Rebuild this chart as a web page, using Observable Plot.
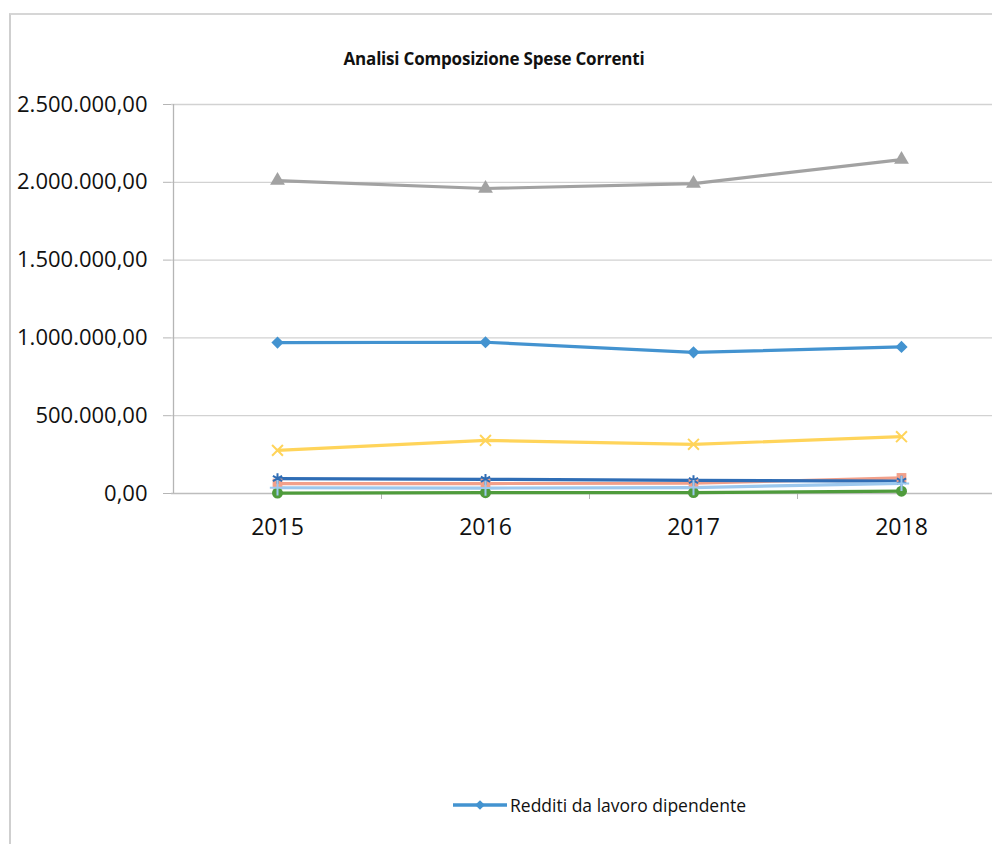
<!DOCTYPE html>
<html>
<head>
<meta charset="utf-8">
<script src="https://cdn.jsdelivr.net/npm/d3@7"></script>
<script src="https://cdn.jsdelivr.net/npm/@observablehq/plot@0.6"></script>
<style>
  body { margin: 0; background: #fff; font-family: "Open Sans", sans-serif; }
  #wrap { position: relative; width: 992px; height: 844px; overflow: hidden; background: #fff; }
  #frame { position: absolute; left: 9px; top: 13px; width: 1000px; height: 900px;
           border-left: 2px solid #cfcfcf; border-top: 2px solid #d6d6d6; }
  #title { position: absolute; left: 0; width: 988px; top: 47px; text-align: center;
           font-weight: 700; font-size: 17px; color: #111; letter-spacing: -0.2px; }
  #chart { position: absolute; left: 0; top: 84px; }
  #legend { position: absolute; left: 452px; top: 793px; display: flex; align-items: center;
            font-size: 17.5px; color: #111; }
</style>
</head>
<body>
<div id="wrap">
  <div id="frame"></div>
  <div id="title">Analisi Composizione Spese Correnti</div>
  <div id="chart"></div>
  <div id="legend"></div>
</div>
<script>
// ---- data ----
const years = [2015, 2016, 2017, 2018];
const seriesNames = [
  "Redditi da lavoro dipendente",
  "Imposte e tasse a carico dell'ente",
  "Acquisto di beni e servizi",
  "Trasferimenti correnti",
  "Interessi passivi",
  "Rimborsi e poste correttive delle entrate",
  "Altre spese correnti"
];
const redditi   = [970000, 972000, 907000, 942000];
const imposte   = [64000, 64000, 66000, 100000];
const beni      = [2011000, 1960000, 1992000, 2146000];
const trasferim = [277000, 341000, 316000, 365000];
const interessi = [96000, 91000, 84000, 80000];
const rimborsi  = [3000, 5000, 6000, 15000];
const altre     = [37000, 35000, 38000, 65000];
const yTicks = [0, 500000, 1000000, 1500000, 2000000, 2500000];
const legendShown = ["Redditi da lavoro dipendente"];

// ---- styles ----
const colors  = ["#4393d0", "#f2a08a", "#a2a2a2", "#ffd45a", "#2f6db5", "#4f9b3c", "#9cc8ee"];
const symbols = ["diamond2", "square", "triangle", "times", "asterisk", "circle", "plus"];
const filledSym = new Set(["diamond2", "square", "triangle", "circle"]);

const valueArrays = [redditi, imposte, beni, trasferim, interessi, rimborsi, altre];
const data = [];
seriesNames.forEach((s, i) => years.forEach((yr, j) => data.push({series: s, year: yr, value: valueArrays[i][j]})));
const symOf = Object.fromEntries(seriesNames.map((s, i) => [s, symbols[i]]));

const it = d3.formatLocale({decimal: ",", thousands: ".", grouping: [3], currency: ["€", ""]});
const fmt = it.format(",.2f");
const boundaries = years.slice(1).map(y => y - 0.5);

const chart = Plot.plot({
  width: 992,
  height: 470,
  marginLeft: 171,
  marginRight: 0,
  marginTop: 20,
  marginBottom: 61,
  style: {fontFamily: "Open Sans, sans-serif", color: "#111", background: "transparent"},
  x: {type: "linear", domain: [years[0] - 0.5, years[years.length - 1] + 0.5], range: [173, 1005], axis: null},
  y: {domain: [0, 2500000], axis: null},
  color: {domain: seriesNames, range: colors},
  symbol: {domain: seriesNames, range: symbols},
  marks: [
    Plot.ruleY(yTicks.filter(d => d > 0), {stroke: "#d2d2d2", strokeWidth: 1.3}),
    Plot.ruleY([0], {stroke: "#bdbdbd", strokeWidth: 1.3}),
    Plot.ruleX([years[0] - 0.5], {stroke: "#b5b5b5", strokeWidth: 1.3}),
    Plot.axisY({ticks: yTicks, tickFormat: fmt, tickSize: 8, tickPadding: 16, fontSize: 22, fontWeight: 500, stroke: "#b5b5b5", label: null}),
    Plot.axisX({ticks: boundaries, tickFormat: () => "", tickSize: 6, stroke: "#b5b5b5", label: null}),
    Plot.axisX({ticks: years, tickFormat: d => String(d), tickSize: 0, tickPadding: 25, fontSize: 23, fontWeight: 500, label: null}),
    Plot.line(data, {x: "year", y: "value", z: "series", stroke: "series", strokeWidth: 3.2, strokeLinejoin: "round"}),
    Plot.dot(data.filter(d => filledSym.has(symOf[d.series])), {x: "year", y: "value", symbol: "series", fill: "series", r: 5.5}),
    Plot.dot(data.filter(d => !filledSym.has(symOf[d.series])), {x: "year", y: "value", symbol: "series", stroke: "series", r: 5, strokeWidth: 2})
  ]
});
document.getElementById("chart").appendChild(chart);

// ---- legend (only the first entry is visible in the reference) ----
const leg = document.getElementById("legend");
legendShown.forEach(name => {
  const i = seriesNames.indexOf(name);
  const sw = d3.create("svg").attr("width", 56).attr("height", 14);
  sw.append("line").attr("x1", 1).attr("x2", 55).attr("y1", 7).attr("y2", 7)
    .attr("stroke", colors[i]).attr("stroke-width", 3.5);
  sw.append("path").attr("d", d3.symbol(d3.symbolDiamond2, 60)()).attr("transform", "translate(28,7)")
    .attr("fill", colors[i]);
  leg.appendChild(sw.node());
  const t = document.createElement("span");
  t.textContent = name;
  t.style.marginLeft = "2px";
  leg.appendChild(t);
});
</script>
</body>
</html>
